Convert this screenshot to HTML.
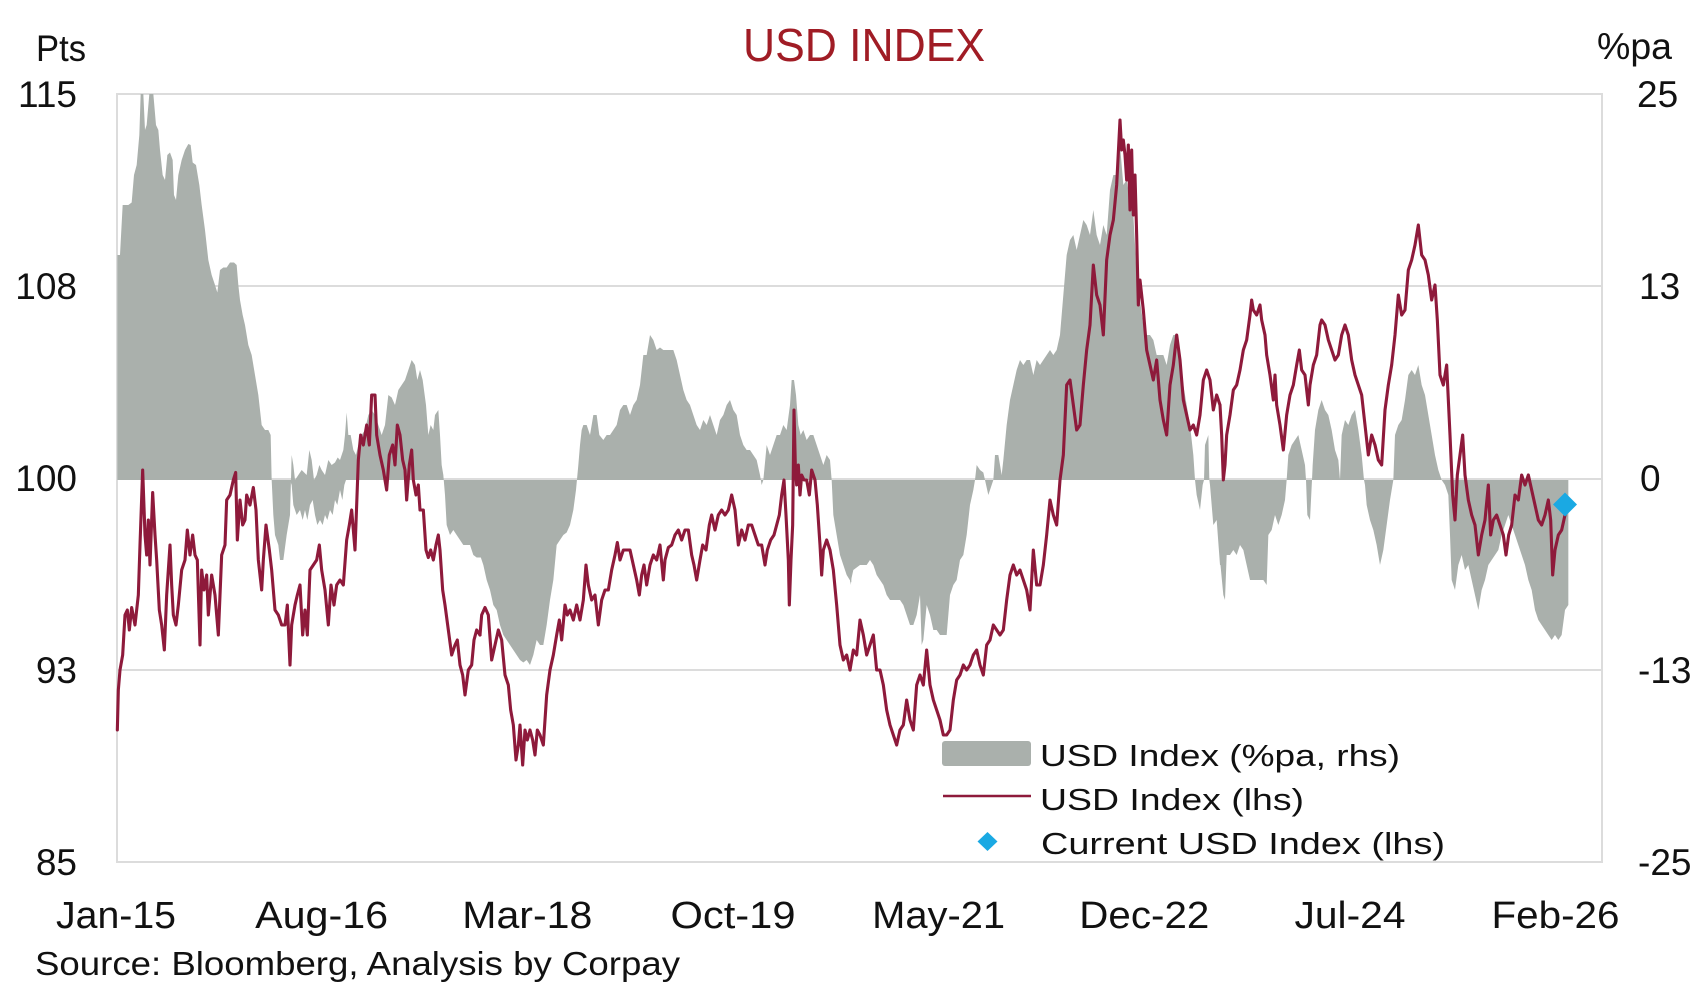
<!DOCTYPE html>
<html><head><meta charset="utf-8"><style>
html,body{margin:0;padding:0;background:#fff;}
svg{display:block;}
text{font-family:"Liberation Sans",Arial,sans-serif;}
</style></head><body>
<svg width="1707" height="1000" viewBox="0 0 1707 1000" xmlns="http://www.w3.org/2000/svg">
<rect width="1707" height="1000" fill="#fff"/>
<!-- grid -->
<g stroke="#dcdcdc" stroke-width="2" fill="none">
<line x1="117" y1="286" x2="1602" y2="286"/>
<line x1="117" y1="479" x2="1602" y2="479"/>
<line x1="117" y1="670" x2="1602" y2="670"/>
<rect x="117" y="94" width="1485" height="768"/>
</g>
<!-- area -->
<g fill="#aab0ac" stroke="none">
<g transform="translate(110,85) scale(0.333333,0.5)">
<polygon points="22,790 22,340 30,340 38,240 55,240 65,235 72,180 80,160 88,100 92,18 100,18 105,90 110,80 118,18 130,18 138,80 145,90 150,130 158,180 165,190 172,140 180,135 188,150 192,220 198,230 205,180 215,150 225,130 235,118 242,120 248,155 258,160 268,200 275,240 285,290 295,350 305,380 315,400 322,415 330,370 340,365 350,365 360,355 372,355 380,360 385,400 390,430 398,460 405,480 415,520 425,540 435,580 445,620 455,680 465,690 475,690 482,700 485,790 490,860 495,900 505,920 510,950 520,950 530,900 540,860 545,740 550,760 555,790 565,780 575,770 590,780 598,730 605,750 612,790 620,780 628,760 635,770 645,780 655,750 665,760 675,755 683,745 690,750 700,730 705,700 710,655 715,700 722,700 730,730 738,740 745,720 755,700 765,690 775,660 785,650 795,660 805,680 815,700 825,680 835,620 845,625 855,640 865,610 875,600 885,590 895,570 905,550 915,560 922,590 930,570 938,590 948,640 955,700 962,680 970,690 975,660 985,650 990,700 995,760 1000,780 1005,820 1010,880 1020,900 1030,890 1040,900 1050,910 1060,920 1070,920 1080,920 1090,940 1100,945 1114,945 1114,790"/>
<polygon points="540,790 545,800 550,840 560,860 570,850 578,870 585,850 592,870 600,840 608,830 615,860 622,880 630,870 638,880 645,860 652,870 660,850 668,860 675,830 682,840 690,810 697,830 703,800 708,790"/>
</g>
<g transform="translate(480,85) scale(0.333333,0.5)">
<polygon points="0,790 0,940 10,960 20,990 30,1010 40,1040 50,1050 60,1080 70,1100 80,1110 90,1120 100,1130 110,1140 120,1150 130,1155 140,1150 150,1160 160,1140 170,1110 180,1120 190,1120 200,1080 210,1030 220,990 230,920 240,910 250,900 260,895 270,880 280,850 288,810 295,760 300,720 305,690 310,680 320,680 330,700 340,660 350,660 358,700 370,710 380,700 390,700 400,690 410,680 420,650 430,640 440,640 450,660 460,640 470,630 480,600 490,540 500,540 510,500 520,510 530,530 540,525 550,530 560,530 570,530 580,530 590,550 600,580 610,610 620,630 630,640 640,660 650,680 660,690 670,670 680,680 690,660 700,680 710,700 720,670 730,660 740,640 750,630 760,650 770,660 780,700 790,720 800,730 810,730 820,740 830,750 840,780 845,800 850,790 860,720 870,740 880,720 890,700 900,700 910,680 920,690 930,640 935,590 942,590 948,620 955,680 962,700 970,690 980,710 990,700 1000,700 1010,720 1020,740 1030,760 1040,740 1050,750 1055,790 1060,860 1070,900 1080,940 1090,960 1100,980 1114,995 1114,790"/>
</g>
<g transform="translate(850,85) scale(0.333333,0.5)">
<polygon points="0,790 0,1000 10,970 20,965 30,960 40,960 50,960 60,950 70,960 80,980 90,990 100,1000 110,1020 120,1030 130,1030 140,1030 150,1030 160,1040 170,1060 180,1080 190,1080 200,1060 210,1020 215,1120 220,1110 230,1040 240,1060 250,1090 260,1090 270,1100 280,1100 290,1100 300,1020 310,1000 320,990 330,950 340,940 350,900 360,840 370,810 375,790 380,760 390,770 400,775 405,790 415,820 425,800 430,790 435,740 445,740 455,780 460,750 470,680 480,630 490,600 500,570 510,550 520,560 530,550 540,550 550,580 560,550 570,560 580,550 590,540 600,530 610,540 620,530 630,500 640,420 650,340 660,310 670,300 680,330 690,300 700,270 710,280 720,300 730,250 740,300 750,320 760,280 770,300 780,210 790,180 800,180 810,120 820,200 830,190 840,230 850,260 860,380 870,430 880,480 890,500 900,500 910,510 920,540 930,540 940,540 950,560 960,520 970,500 980,500 990,540 1000,600 1010,640 1020,680 1030,740 1035,790 1040,820 1050,850 1058,800 1062,790 1065,720 1075,700 1078,790 1080,800 1090,880 1100,870 1110,960 1114,960 1114,790"/>
</g>
<g transform="translate(1220,85) scale(0.333333,0.5)">
<polygon points="0,790 0,950 10,1020 15,1030 20,940 30,940 40,930 50,940 60,920 70,930 80,960 90,990 100,990 110,990 120,990 130,990 140,1000 145,900 155,890 165,860 175,880 185,860 195,830 200,790 205,740 215,720 225,710 235,700 245,730 255,760 258,790 262,860 270,870 276,790 278,760 285,690 295,650 305,630 315,650 325,660 335,690 345,730 355,750 360,790 365,700 375,670 385,680 395,660 405,650 415,690 425,740 432,790 435,800 440,840 450,870 460,890 470,920 480,960 490,930 500,880 510,830 520,790 525,700 535,680 545,670 555,630 565,580 575,570 585,580 595,560 605,600 615,620 625,660 635,700 645,740 655,770 665,790 675,800 685,820 690,900 695,990 705,1010 715,960 725,940 735,970 745,960 755,990 765,1020 775,1050 785,1010 795,990 805,960 815,950 825,940 835,930 845,900 855,880 865,860 875,880 885,900 895,920 905,940 915,960 925,990 935,1010 945,1050 955,1070 965,1080 975,1090 985,1100 995,1110 1005,1100 1015,1110 1025,1100 1035,1050 1045,1040 1045,790"/>
</g>
</g>
<!-- line -->
<g fill="none" stroke="#8e1a3b" stroke-width="3.1" stroke-linejoin="round" stroke-linecap="round">
<g transform="translate(110,85) scale(0.333333,0.5)">
<polyline vector-effect="non-scaling-stroke" points="22,1290 25,1210 30,1170 38,1140 45,1060 52,1050 58,1090 65,1045 75,1080 85,1020 90,920 98,770 105,900 110,940 115,870 120,960 128,815 135,900 140,950 148,1050 155,1080 163,1130 170,1020 180,920 185,1000 190,1060 198,1080 205,1040 215,970 225,950 232,890 240,940 248,900 255,940 262,950 270,1120 275,970 282,1010 290,980 295,1060 305,980 315,1020 325,1100 335,940 345,920 350,830 360,820 370,790 377,775 382,910 390,830 398,880 405,870 410,820 420,840 430,805 438,850 445,950 455,1010 460,950 468,880 478,930 485,970 495,1050 505,1060 515,1080 525,1080 532,1040 540,1160 545,1080 555,1040 562,1020 570,1000 578,1100 585,1050 592,1100 600,970 610,960 620,950 628,920 635,970 645,1010 655,1080 663,1000 672,1040 680,1000 690,990 700,1000 710,910 718,880 725,850 735,930 745,750 752,700 760,720 770,680 778,720 785,620 795,620 800,700 810,740 820,770 830,810 838,740 848,720 855,760 862,680 870,700 878,750 885,770 890,830 898,760 905,730 910,790 918,820 925,800 930,850 940,850 948,930 955,945 962,930 970,950 978,920 985,900 990,930 998,1010 1005,1040 1015,1090 1025,1140 1035,1120 1042,1110 1050,1160 1058,1180 1065,1220 1075,1170 1085,1160 1092,1110 1100,1090 1110,1100"/>
</g>
<g transform="translate(480,85) scale(0.333333,0.5)">
<polyline vector-effect="non-scaling-stroke" points="0,1100 5,1060 15,1045 25,1060 35,1150 45,1120 55,1090 65,1110 75,1180 85,1200 92,1250 100,1280 108,1350 115,1320 120,1280 128,1360 135,1290 142,1310 150,1290 158,1310 165,1340 172,1290 180,1300 190,1320 200,1220 210,1170 220,1140 230,1100 238,1070 245,1110 255,1040 262,1060 270,1050 280,1070 290,1040 300,1070 310,1030 318,960 325,1000 335,1030 345,1020 355,1080 365,1030 375,1010 385,1010 395,970 405,940 412,915 420,950 430,930 440,930 450,930 460,960 470,990 478,1020 485,980 492,960 500,1000 510,960 520,940 530,950 540,920 550,990 555,950 565,925 575,920 585,900 595,890 605,910 615,890 625,890 635,940 642,960 650,990 660,950 668,920 678,930 688,880 695,860 705,890 715,860 725,850 735,860 745,850 755,820 765,850 775,920 785,890 795,910 805,880 815,880 825,900 835,920 845,920 855,960 862,930 872,910 882,900 890,880 898,860 905,820 912,790 918,860 925,950 928,1040 933,950 938,880 942,650 946,760 950,800 955,760 960,820 965,780 972,790 980,790 988,820 995,770 1005,790 1012,840 1020,920 1025,980 1030,930 1040,910 1050,930 1060,970 1070,1040 1080,1120 1090,1150 1100,1140 1110,1170"/>
</g>
<g transform="translate(850,85) scale(0.333333,0.5)">
<polyline vector-effect="non-scaling-stroke" points="0,1170 10,1130 20,1140 30,1070 40,1100 50,1140 60,1120 70,1100 80,1170 90,1170 100,1200 110,1250 120,1280 130,1300 140,1320 150,1290 160,1280 170,1230 180,1270 190,1290 200,1200 210,1180 220,1200 230,1130 240,1200 250,1230 260,1250 270,1270 280,1300 290,1300 300,1290 310,1230 320,1190 330,1180 340,1160 350,1170 360,1160 370,1140 380,1130 390,1160 400,1180 410,1120 420,1110 430,1080 440,1090 450,1100 460,1090 470,1030 480,980 490,960 500,980 510,970 520,990 530,1010 540,1050 550,930 560,1000 570,1000 580,960 590,900 600,830 610,860 620,880 630,790 640,740 650,600 660,590 670,640 680,690 690,680 700,600 710,530 720,480 730,360 740,420 750,440 760,500 770,350 780,300 790,270 800,200 810,70 815,130 820,110 825,140 830,190 835,120 840,250 845,130 850,260 855,180 860,300 865,440 870,390 880,450 890,530 900,560 910,590 920,550 930,630 940,670 950,700 960,600 970,560 980,500 990,550 1000,630 1010,660 1020,690 1030,680 1040,700 1050,660 1060,590 1070,570 1080,590 1090,650 1100,620 1110,640"/>
</g>
<g transform="translate(1220,85) scale(0.333333,0.5)">
<polyline vector-effect="non-scaling-stroke" points="0,640 5,700 10,790 15,760 20,700 30,660 40,610 50,600 60,570 70,530 80,510 90,460 95,430 100,450 110,460 120,440 125,470 135,500 140,540 150,580 160,630 165,580 170,640 180,680 190,730 200,660 210,620 220,600 230,560 238,530 245,570 255,580 265,640 270,600 280,560 290,540 300,480 305,470 315,480 325,510 335,530 345,550 355,540 365,500 375,480 385,500 395,550 405,580 415,600 425,620 435,680 445,740 455,700 465,720 475,750 485,760 495,650 505,600 515,560 525,500 535,420 545,460 555,450 565,370 575,350 585,320 595,280 605,340 615,350 625,380 635,430 645,400 652,470 660,580 670,600 680,560 690,700 698,820 705,870 712,780 720,740 728,700 735,780 745,830 755,860 765,880 775,940 785,900 795,870 805,800 812,900 820,870 830,860 840,880 850,900 858,940 866,900 875,880 885,820 895,830 905,780 915,800 925,780 935,810 945,840 955,870 965,880 975,860 985,830 992,870 998,980 1005,930 1015,900 1025,890 1035,860 1040,850"/>
</g>
</g>
<!-- current diamond -->
<polygon points="1565,492.5 1577,504.5 1565,516.5 1553,504.5" fill="#1aa9e3"/>

<!-- title & axis titles -->
<text x="743" y="61" font-size="46" fill="#a01c25" textLength="242" lengthAdjust="spacingAndGlyphs">USD INDEX</text>
<text x="36" y="61" font-size="37" fill="#111" textLength="50" lengthAdjust="spacingAndGlyphs">Pts</text>
<text x="1597" y="59" font-size="37" fill="#111" textLength="75" lengthAdjust="spacingAndGlyphs">%pa</text>

<!-- left ticks -->
<g font-size="37" fill="#111" text-anchor="end">
<text x="77" y="107">115</text>
<text x="77" y="299">108</text>
<text x="77" y="491">100</text>
<text x="77" y="683">93</text>
<text x="77" y="875">85</text>
</g>
<!-- right ticks -->
<g font-size="37" fill="#111">
<text x="1637" y="107">25</text>
<text x="1639" y="299">13</text>
<text x="1640" y="491">0</text>
<text x="1638" y="683">-13</text>
<text x="1638" y="875">-25</text>
</g>
<!-- x ticks -->
<g font-size="38" fill="#111" text-anchor="middle">
<text x="116" y="928" textLength="120" lengthAdjust="spacingAndGlyphs">Jan-15</text>
<text x="321.6" y="928" textLength="133" lengthAdjust="spacingAndGlyphs">Aug-16</text>
<text x="527.3" y="928" textLength="130" lengthAdjust="spacingAndGlyphs">Mar-18</text>
<text x="733" y="928" textLength="125" lengthAdjust="spacingAndGlyphs">Oct-19</text>
<text x="938.6" y="928" textLength="133" lengthAdjust="spacingAndGlyphs">May-21</text>
<text x="1144.3" y="928" textLength="130" lengthAdjust="spacingAndGlyphs">Dec-22</text>
<text x="1350" y="928" textLength="111" lengthAdjust="spacingAndGlyphs">Jul-24</text>
<text x="1555.5" y="928" textLength="128" lengthAdjust="spacingAndGlyphs">Feb-26</text>
</g>
<text x="35" y="975" font-size="33" fill="#111" textLength="645" lengthAdjust="spacingAndGlyphs">Source: Bloomberg, Analysis by Corpay</text>

<!-- legend -->
<rect x="942" y="741" width="89" height="25" rx="3" fill="#aab0ac"/>
<line x1="943" y1="796" x2="1031" y2="796" stroke="#8e1a3b" stroke-width="2.5"/>
<polygon points="987.5,832 997.5,841.5 987.5,851 977.5,841.5" fill="#1aa9e3"/>
<g font-size="31" fill="#111">
<text x="1040" y="766" textLength="360" lengthAdjust="spacingAndGlyphs">USD Index (%pa, rhs)</text>
<text x="1040" y="810" textLength="264" lengthAdjust="spacingAndGlyphs">USD Index (lhs)</text>
<text x="1041" y="854" textLength="404" lengthAdjust="spacingAndGlyphs">Current USD Index (lhs)</text>
</g>
</svg>
</body></html>
